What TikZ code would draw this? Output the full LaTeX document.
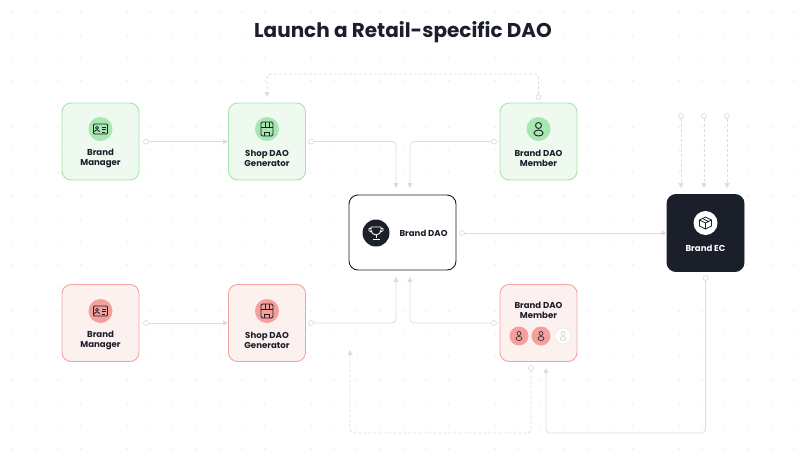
\documentclass[tikz,border=0pt]{standalone}
\usepackage{fontspec}
\setmainfont{Poppins}
\usetikzlibrary{arrows.meta}
\definecolor{gfill}{HTML}{EEFAEF}
\definecolor{gline}{HTML}{A6E3AE}
\definecolor{gcirc}{HTML}{A8E6B2}
\definecolor{rfill}{HTML}{FDF1F0}
\definecolor{rline}{HTML}{F3A3A0}
\definecolor{rcirc}{HTML}{F4A09C}
\definecolor{ink}{HTML}{1B1F2A}
\definecolor{conn}{HTML}{DDDDDD}
\begin{document}
\begin{tikzpicture}[x=1pt,y=-1pt,
  card/.style={rounded corners=9pt,minimum width=77pt,minimum height=77pt,line width=0.9pt},
  gcard/.style={card,draw=gline,fill=gfill},
  rcard/.style={card,draw=rline,fill=rfill},
  lab/.style={font=\fontsize{8.6}{10}\selectfont\bfseries,text=ink,align=center},
  ln/.style={draw=conn,line width=0.8pt,rounded corners=4pt},
  arr/.style={ln,-{Triangle[length=5pt,width=5pt]}},
  dsh/.style={dashed,dash pattern=on 3pt off 2pt},
  st/.style={circle,draw=conn,fill=white,line width=0.7pt,inner sep=0pt,minimum size=5pt},
  ic/.style={circle,inner sep=0pt,minimum size=24pt}]
\useasboundingbox[fill=white] (0,0) rectangle (806,466);
\foreach \i in {0,...,34}{\foreach \j in {0,...,19}{\fill[black!8] (12+23*\i,12+23*\j) circle (0.9pt);}}
\node[font=\fontsize{20}{24}\selectfont\bfseries,text=ink] (title) at (403,32) {Launch a Retail-specific DAO};
% cards
\node[gcard] (bm1) at (100.5,141.5) {};
\node[gcard] (sg1) at (267,141.5) {};
\node[gcard] (mb1) at (538.5,141.5) {};
\node[rcard] (bm2) at (100.5,323) {};
\node[rcard] (sg2) at (267,323) {};
\node[rcard] (mb2) at (538.5,323) {};
\node[card,draw=ink,fill=white,minimum width=107pt,minimum height=75pt] (dao) at (402.5,232.5) {};
\node[card,draw=ink,fill=ink] (ec) at (705.5,233) {};
% icons
\node[ic,fill=gcirc] (i1) at (100.5,129) {};
\node[ic,fill=gcirc] (i2) at (267,129) {};
\node[ic,fill=gcirc] (i3) at (538.5,129) {};
\node[ic,fill=rcirc] (i4) at (100.5,311) {};
\node[ic,fill=rcirc] (i5) at (267,311) {};
\node[ic,fill=ink,minimum size=27pt] (i6) at (376,233) {};
\node[ic,fill=white] (i7) at (705.5,223) {};
\foreach \c in {i1,i4}{
  \draw[ink,line width=0.8pt,rounded corners=1pt] ([shift={(-7,-5)}]\c.center) rectangle ([shift={(7,5)}]\c.center);
  \draw[ink,line width=0.7pt] ([shift={(-3.5,-1.2)}]\c.center) circle (1.5pt);
  \draw[ink,line width=0.7pt] ([shift={(-6,3)}]\c.center) arc[start angle=180,end angle=360,x radius=2.5pt,y radius=-2pt];
  \draw[ink,line width=0.7pt] ([shift={(1.5,-2)}]\c.center) -- ++(4,0) ([shift={(1.5,0.5)}]\c.center) -- ++(4,0) ([shift={(1.5,3)}]\c.center) -- ++(3,0);}
\foreach \c in {i2,i5}{
  \draw[ink,line width=0.8pt,rounded corners=1.5pt] ([shift={(-6,-7)}]\c.center) rectangle ([shift={(6,7)}]\c.center);
  \draw[ink,line width=0.7pt] ([shift={(-6,-2)}]\c.center) -- ++(12,0) ([shift={(-2,-7)}]\c.center) -- ++(0,5) ([shift={(2,-7)}]\c.center) -- ++(0,5);
  \draw[ink,line width=0.7pt] ([shift={(-2.5,7)}]\c.center) -- ++(0,-4) -- ++(5,0) -- ++(0,4);}
\draw[ink,line width=0.9pt] ([shift={(0,-3.5)}]i3.center) circle (3pt);
\draw[ink,line width=0.9pt] ([shift={(0,4)}]i3.center) ellipse (4.5pt and 3pt);
% trophy
\draw[white,line width=0.9pt] ([shift={(-5,-6)}]i6.center) -- ++(10,0) -- ++(0,3) arc[start angle=0,end angle=-180,radius=5pt] -- cycle;
\draw[white,line width=0.8pt] ([shift={(0,2)}]i6.center) -- ++(0,3) ([shift={(-3.5,6)}]i6.center) -- ++(7,0);
\draw[white,line width=0.7pt] ([shift={(-5,-4.5)}]i6.center) -- ++(-2,0) -- ++(0,2) -- ++(2,1.5) ([shift={(5,-4.5)}]i6.center) -- ++(2,0) -- ++(0,2) -- ++(-2,1.5);
% box
\draw[ink,line width=0.8pt] ([shift={(0,-6)}]i7.center) -- ++(6,3) -- ++(0,6) -- ++(-6,3) -- ++(-6,-3) -- ++(0,-6) -- cycle;
\draw[ink,line width=0.8pt] ([shift={(-6,-3)}]i7.center) -- ++(6,3) -- ++(6,-3) ([shift={(0,0)}]i7.center) -- ++(0,6) ([shift={(-3,-4.5)}]i7.center) -- ++(6,3);
% labels
\node[lab] (l1) at (100.5,158) {Brand\\Manager};
\node[lab] (l2) at (267,158) {Shop DAO\\Generator};
\node[lab] (l3) at (538.5,158) {Brand DAO\\Member};
\node[lab] (l4) at (100.5,340) {Brand\\Manager};
\node[lab] (l5) at (267,340) {Shop DAO\\Generator};
\node[lab] (l6) at (538.5,310) {Brand DAO\\Member};
\node[lab,anchor=west] (l7) at (396,233) {Brand DAO};
\node[lab,text=white] (l8) at (705.5,248) {Brand EC};
% member avatars
\node[circle,fill=rcirc,minimum size=19pt,inner sep=0pt] (a1) at (519,336) {};
\node[circle,fill=rcirc,minimum size=19pt,inner sep=0pt] (a2) at (541,336) {};
\node[circle,draw=black!10,fill=white,minimum size=16pt,inner sep=0pt] (a3) at (563,336) {};
\foreach \c/\k in {a1/ink,a2/ink,a3/black!20}{
  \draw[\k,line width=0.6pt] ([shift={(0,-2.5)}]\c.center) circle (2pt);
  \draw[\k,line width=0.6pt] ([shift={(0,2.5)}]\c.center) ellipse (3pt and 2pt);}
% stubs
\node[st] (s1) at (146,141.5) {};
\node[st] (s2) at (311,141.5) {};
\node[st] (s3) at (494,141.5) {};
\node[st] (s4) at (538.5,97) {};
\node[st] (s5) at (462,233) {};
\node[st] (s6) at (681,116) {};
\node[st] (s7) at (704,116) {};
\node[st] (s8) at (727,116) {};
\node[st] (s9) at (146,323) {};
\node[st] (s10) at (311,323) {};
\node[st] (s11) at (494,323) {};
\node[st] (s12) at (531,368) {};
\node[st] (s13) at (705.5,278) {};
\coordinate (t1) at (267,97);
\coordinate (t2) at (396,188);
\coordinate (t3) at (410,188);
\coordinate (t4) at (396,277);
\coordinate (t5) at (410,277);
\coordinate (t6) at (350,350);
\coordinate (t7) at (546,368);
% connectors
\draw[arr] (s1) -- (bm1.east -| sg1.west);
\draw[arr] (s9) -- (bm2.east -| sg2.west);
\draw[arr] (s2) -| (t2);
\draw[arr] (s3) -| (t3);
\draw[arr] (s10) -| (t4);
\draw[arr] (s11) -| (t5);
\draw[arr] (s5) -- (s5 -| ec.west);
\draw[arr,dsh] (s4) -- ++(0,-23) -| (t1);
\foreach \s in {s6,s7,s8}{\draw[arr,dsh] (\s) -- (\s |- 0,188);}
\draw[arr,dsh] (s12) -- ++(0,65) -| (t6);
\draw[arr] (s13) -- ++(0,155) -| (t7);
\end{tikzpicture}
\end{document}
